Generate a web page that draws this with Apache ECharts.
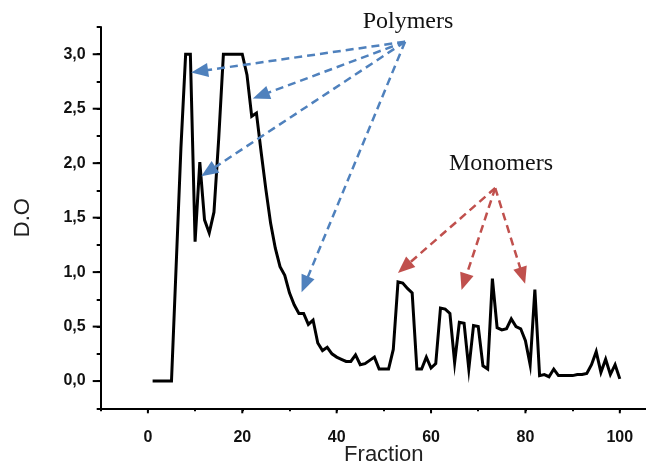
<!DOCTYPE html>
<html>
<head>
<meta charset="utf-8">
<script src="https://cdn.jsdelivr.net/npm/echarts@6/dist/echarts.min.js"></script>
<style>
  html, body { margin: 0; padding: 0; background: #fff; }
  #mydiv { width: 646px; height: 464px; }
</style>
</head>
<body>
<div id="mydiv"></div>
<script>
// D.O value for each fraction, fraction 1 .. 100
var doValues = [
    0, 0, 0, 0, 0, 1.07, 2.14, 3.0, 3.0, 1.28,
    2.01, 1.48, 1.36, 1.55, 2.22, 3.0, 3.0, 3.0, 3.0, 3.0,
    2.81, 2.43, 2.46, 2.10, 1.76, 1.45, 1.22, 1.05, 0.97, 0.81,
    0.70, 0.62, 0.62, 0.52, 0.56, 0.35, 0.28, 0.31, 0.25, 0.22,
    0.20, 0.18, 0.18, 0.24, 0.15, 0.16, 0.19, 0.22, 0.11, 0.11,
    0.11, 0.29, 0.91, 0.90, 0.85, 0.81, 0.11, 0.11, 0.22, 0.12,
    0.16, 0.67, 0.66, 0.62, 0.17, 0.54, 0.53, 0.11, 0.51, 0.50,
    0.14, 0.11, 0.94, 0.49, 0.47, 0.48, 0.57, 0.50, 0.48, 0.37,
    0.15, 0.84, 0.05, 0.06, 0.04, 0.11, 0.05, 0.05, 0.05, 0.05,
    0.06, 0.06, 0.07, 0.15, 0.27, 0.08, 0.20, 0.06, 0.15, 0.02
];

// major tick values (these carry the labels)
var xMajorTicks = [0, 20, 40, 60, 80, 100];
var yMajorTicks = [0, 0.5, 1.0, 1.5, 2.0, 2.5, 3.0];

// annotation arrows: [from, to] in data units
var polymerArrows = [
    [[54.5, 3.115], [10.96, 2.844]],
    [[54.5, 3.115], [23.93, 2.621]],
    [[54.5, 3.115], [12.82, 1.923]],
    [[54.5, 3.115], [33.25, 0.888]]
];
var monomerArrows = [
    [[73.6, 1.772], [54.34, 1.043]],
    [[73.6, 1.772], [67.03, 0.910]],
    [[73.6, 1.772], [79.40, 0.967]]
];

var X_MIN = -10, X_MAX = 110, Y_MIN = -0.25, Y_MAX = 3.25;

var chart = echarts.init(document.getElementById('mydiv'), null, { renderer: 'canvas' });

var lineData = [];
for (var i = 0; i < doValues.length; i++) {
    lineData.push([i + 1, doValues[i]]);
}

function arrowLines(list, color) {
    return list.map(function (a) {
        return [
            { coord: a[0], symbol: 'none' },
            { coord: a[1], lineStyle: { color: color }, itemStyle: { color: color } }
        ];
    });
}

function isIn(v, list) {
    for (var k = 0; k < list.length; k++) {
        if (Math.abs(list[k] - v) < 1e-6) return true;
    }
    return false;
}

var axisFont = '"Liberation Sans", Arial, sans-serif';
var labelFont = 'bold 16px "Liberation Sans", Arial, sans-serif';

// longer outward ticks (and y labels) for the labelled values
var tickData = [];
xMajorTicks.forEach(function (v) { tickData.push([v, Y_MIN, 0]); });
yMajorTicks.forEach(function (v) { tickData.push([X_MIN, v, 1]); });

function renderTick(params, api) {
    var v0 = api.value(0), v1 = api.value(1);
    var p = api.coord([v0, v1]);
    if (api.value(2) === 1) {
        return {
            type: 'group',
            children: [{
                type: 'line',
                shape: { x1: p[0] - 8, y1: p[1], x2: p[0], y2: p[1] },
                style: { stroke: '#000', lineWidth: 2 }
            }, {
                type: 'text',
                x: p[0] - 15, y: p[1],
                style: {
                    text: v1.toFixed(1).replace('.', ','),
                    align: 'right', verticalAlign: 'middle',
                    font: labelFont, fill: '#111'
                }
            }]
        };
    }
    return {
        type: 'line',
        shape: { x1: p[0], y1: p[1], x2: p[0], y2: p[1] + 5 },
        style: { stroke: '#000', lineWidth: 2 }
    };
}

var option = {
    animation: false,
    grid: { left: 100.7, top: 27, right: -21, bottom: 55.7, outerBoundsMode: 'none', containLabel: false },
    xAxis: {
        type: 'value', min: X_MIN, max: X_MAX, interval: 10, position: 'bottom',
        name: 'Fraction', nameLocation: 'middle', nameGap: 36, nameMoveOverlap: false,
        nameTextStyle: { fontFamily: axisFont, fontSize: 22, color: '#222' },
        axisLine: { show: true, onZero: false, lineStyle: { color: '#000', width: 2 } },
        axisTick: { show: true, inside: false, length: 3, lineStyle: { color: '#000', width: 2 } },
        axisLabel: {
            margin: 21, align: 'center',
            formatter: function (v) { return isIn(v, xMajorTicks) ? String(v) : ''; },
            fontFamily: axisFont, fontSize: 16, fontWeight: 'bold', color: '#111'
        },
        splitLine: { show: false }
    },
    yAxis: {
        type: 'value', min: Y_MIN, max: Y_MAX, interval: 0.25, position: 'left',
        name: 'D.O', nameLocation: 'middle', nameGap: 67, nameRotate: 90, nameMoveOverlap: false,
        nameTextStyle: { fontFamily: axisFont, fontSize: 22, color: '#222' },
        axisLine: { show: true, onZero: false, lineStyle: { color: '#000', width: 2 } },
        axisTick: { show: true, inside: false, length: 4, lineStyle: { color: '#000', width: 2 } },
        axisLabel: { show: false },
        splitLine: { show: false }
    },
    graphic: [{
        type: 'text', x: 408, y: 22,
        style: { text: 'Polymers', align: 'center', verticalAlign: 'middle',
                 font: '24px "Liberation Serif", "Times New Roman", serif', fill: '#111' }
    }, {
        type: 'text', x: 501, y: 164,
        style: { text: 'Monomers', align: 'center', verticalAlign: 'middle',
                 font: '24px "Liberation Serif", "Times New Roman", serif', fill: '#111' }
    }],
    series: [{
        type: 'line',
        name: 'D.O',
        data: lineData,
        showSymbol: false,
        symbol: 'none',
        lineStyle: { color: '#000', width: 3, join: 'miter' },
        z: 3,
        markLine: {
            silent: true,
            symbol: ['none', 'triangle'],
            symbolSize: [14, 17],
            label: { show: false },
            lineStyle: { color: '#4f81bd', type: [8, 5], width: 2.5 },
            data: arrowLines(polymerArrows, '#4f81bd')
        }
    }, {
        type: 'line',
        data: [],
        markLine: {
            silent: true,
            symbol: ['none', 'triangle'],
            symbolSize: [14, 17],
            label: { show: false },
            lineStyle: { color: '#c0504d', type: [8, 5], width: 2.5 },
            data: arrowLines(monomerArrows, '#c0504d')
        }
    }, {
        // major axis ticks and the y tick labels
        type: 'custom',
        silent: true,
        clip: false,
        data: tickData,
        renderItem: renderTick,
        z: 1
    }]
};

chart.setOption(option);
</script>
</body>
</html>
